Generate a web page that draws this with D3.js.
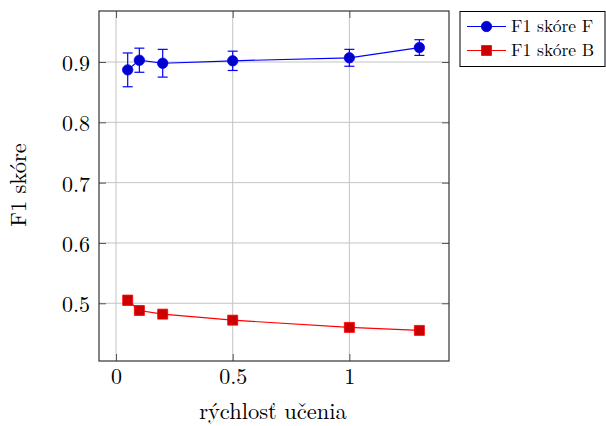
<!DOCTYPE html>
<html>
<head>
<meta charset="utf-8">
<script src="https://cdn.jsdelivr.net/npm/d3@7/dist/d3.min.js"></script>
<style>
    html, body { margin: 0; padding: 0; background: #fff; }
</style>
</head>
<body>
<div id="chart"></div>
<script>
"use strict";

// data
var learningRates = [0.05, 0.1, 0.2, 0.5, 1, 1.3];
var f1F = [0.887, 0.903, 0.898, 0.902, 0.907, 0.924];
var f1FErr = [0.028, 0.020, 0.023, 0.016, 0.014, 0.013];
var f1B = [0.505, 0.488, 0.482, 0.472, 0.460, 0.455];
var f1BErr = [0.008, 0.003, 0.002, 0.002, 0.002, 0.002];
var xTicks = [0, 0.5, 1];
var yTicks = [0.5, 0.6, 0.7, 0.8, 0.9];
var seriesNames = ["F1 skóre F", "F1 skóre B"];

var FONT = "'Latin Modern Roman', 'Liberation Serif', serif";
var W = 606, H = 426;
var box = { left: 99, right: 449, top: 11, bottom: 361 };

var svg = d3.select("#chart").append("svg")
    .attr("width", W).attr("height", H);

var x = d3.scaleLinear().domain([-0.073, 1.427]).range([box.left, box.right]);
var y = d3.scaleLinear().domain([0.4043, 0.9846]).range([box.bottom, box.top]);

// grid
var grid = svg.append("g").attr("class", "grid");
grid.selectAll("line.gx").data(xTicks).enter().append("line")
    .attr("x1", function (d) { return x(d); }).attr("x2", function (d) { return x(d); })
    .attr("y1", box.top).attr("y2", box.bottom)
    .attr("stroke", "#c4c4c4").attr("stroke-width", 1);
grid.selectAll("line.gy").data(yTicks).enter().append("line")
    .attr("y1", function (d) { return y(d); }).attr("y2", function (d) { return y(d); })
    .attr("x1", box.left).attr("x2", box.right)
    .attr("stroke", "#c4c4c4").attr("stroke-width", 1);

// axes with inward ticks on all four sides
var fmt = function (d) { return d3.format("~g")(d); };
var tickLen = 7;

var axB = svg.append("g").attr("transform", "translate(0," + box.bottom + ")")
    .call(d3.axisBottom(x).tickValues(xTicks).tickSize(-tickLen).tickPadding(7.5).tickFormat(fmt));
var axT = svg.append("g").attr("transform", "translate(0," + box.top + ")")
    .call(d3.axisTop(x).tickValues(xTicks).tickSize(-tickLen).tickFormat(""));
var axL = svg.append("g").attr("transform", "translate(" + box.left + ",0)")
    .call(d3.axisLeft(y).tickValues(yTicks).tickSize(-tickLen).tickPadding(9).tickFormat(fmt));
var axR = svg.append("g").attr("transform", "translate(" + box.right + ",0)")
    .call(d3.axisRight(y).tickValues(yTicks).tickSize(-tickLen).tickFormat(""));

[axB, axT, axL, axR].forEach(function (a) {
    a.attr("font-family", null);
    a.select(".domain").remove();
    a.selectAll(".tick line").attr("stroke", "#555").attr("stroke-width", 1);
    a.selectAll(".tick text").style("font-family", FONT).style("font-size", "22px").attr("fill", "#000");
});
axL.selectAll(".tick text").attr("dy", "0.38em");

svg.append("rect")
    .attr("x", box.left).attr("y", box.top)
    .attr("width", box.right - box.left).attr("height", box.bottom - box.top)
    .attr("fill", "none").attr("stroke", "#333").attr("stroke-width", 1.2);

// axis titles
svg.append("text")
    .attr("x", 273).attr("y", 419)
    .attr("text-anchor", "middle").style("font-family", FONT).style("font-size", "22.5px")
    .text("rýchlosť učenia");
svg.append("text")
    .attr("transform", "translate(25.5,185) rotate(-90)")
    .attr("text-anchor", "middle").style("font-family", FONT).style("font-size", "22.5px")
    .text("F1 skóre");

function drawSeries(values, errs, line, fill, shape) {
    var pts = learningRates.map(function (r, i) { return { x: r, y: values[i], e: errs[i] }; });
    var g = svg.append("g");

    g.append("path").datum(pts)
        .attr("d", d3.line().x(function (d) { return x(d.x); }).y(function (d) { return y(d.y); }))
        .attr("fill", "none").attr("stroke", line).attr("stroke-width", 1.2);

    var eb = g.selectAll("g.err").data(pts).enter().append("g")
        .attr("stroke", line).attr("stroke-width", 1.2);
    eb.append("line")
        .attr("x1", function (d) { return x(d.x); }).attr("x2", function (d) { return x(d.x); })
        .attr("y1", function (d) { return y(d.y - d.e); }).attr("y2", function (d) { return y(d.y + d.e); });
    eb.append("line")
        .attr("x1", function (d) { return x(d.x) - 5; }).attr("x2", function (d) { return x(d.x) + 5; })
        .attr("y1", function (d) { return y(d.y + d.e); }).attr("y2", function (d) { return y(d.y + d.e); });
    eb.append("line")
        .attr("x1", function (d) { return x(d.x) - 5; }).attr("x2", function (d) { return x(d.x) + 5; })
        .attr("y1", function (d) { return y(d.y - d.e); }).attr("y2", function (d) { return y(d.y - d.e); });

    var sym = d3.symbol().type(shape).size(shape === d3.symbolCircle ? 85 : 100);
    g.selectAll("path.mark").data(pts).enter().append("path")
        .attr("transform", function (d) { return "translate(" + x(d.x) + "," + y(d.y) + ")"; })
        .attr("d", sym).attr("fill", fill).attr("stroke", line).attr("stroke-width", 0.8);
}

drawSeries(f1F, f1FErr, "#0000ff", "#0000cc", d3.symbolCircle);
drawSeries(f1B, f1BErr, "#ff0000", "#cc0000", d3.symbolSquare);

// legend
var lg = svg.append("g");
lg.append("rect").attr("x", 460).attr("y", 11.5).attr("width", 145).attr("height", 55)
    .attr("fill", "#fff").attr("stroke", "#000").attr("stroke-width", 1);
var legendItems = [
    { name: seriesNames[0], line: "#0000ff", fill: "#0000cc", shape: d3.symbolCircle, cy: 26.5 },
    { name: seriesNames[1], line: "#ff0000", fill: "#cc0000", shape: d3.symbolSquare, cy: 50.5 }
];
legendItems.forEach(function (it) {
    lg.append("line").attr("x1", 467).attr("x2", 506).attr("y1", it.cy).attr("y2", it.cy)
        .attr("stroke", it.line).attr("stroke-width", 1.2);
    lg.append("path").attr("transform", "translate(486.5," + it.cy + ")")
        .attr("d", d3.symbol().type(it.shape).size(it.shape === d3.symbolCircle ? 85 : 100))
        .attr("fill", it.fill).attr("stroke", it.line).attr("stroke-width", 0.8);
    lg.append("text").attr("x", 511).attr("y", it.cy + 5.5)
        .style("font-family", FONT).style("font-size", "17.5px")
        .text(it.name);
});
</script>
</body>
</html>
